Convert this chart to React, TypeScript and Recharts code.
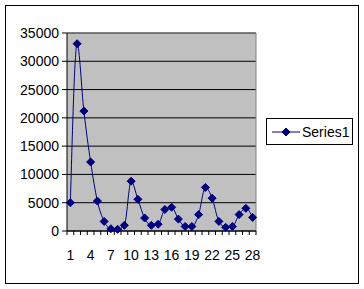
import { LineChart, Line, XAxis, YAxis, CartesianGrid, ReferenceLine, Legend } from "recharts";

const categories = [1, 2, 3, 4, 5, 6, 7, 8, 9, 10, 11, 12, 13, 14, 15, 16, 17, 18, 19, 20, 21, 22, 23, 24, 25, 26, 27, 28];
const series1 = [
  5000, 33100, 21200, 12200, 5300, 1700, 400, 300, 1000, 8800, 5600, 2300, 1000, 1200,
  3800, 4200, 2100, 800, 800, 2900, 7700, 5800, 1700, 650, 800, 2900, 4000, 2400,
];
const xLabels = [1, 4, 7, 10, 13, 16, 19, 22, 25, 28];
const yTicks = [0, 5000, 10000, 15000, 20000, 25000, 30000, 35000];

const NAVY = "#000080";
const FONT = "'Liberation Sans', Arial, sans-serif";

const data = categories.map((c, i) => ({ x: c, Series1: series1[i] }));
const boundaries = [...categories.map((c) => c - 0.5), categories[categories.length - 1] + 0.5];
const xDomain = [boundaries[0], boundaries[boundaries.length - 1]];

const Diamond = ({ cx, cy, r = 4 }: { cx?: number; cy?: number; r?: number }) => {
  if (cx == null || cy == null) return null;
  return (
    <polygon
      points={`${cx},${cy - r} ${cx + r},${cy} ${cx},${cy + r} ${cx - r},${cy}`}
      fill={NAVY}
      stroke={NAVY}
      strokeWidth={1}
    />
  );
};

const NoLabel = () => <g />;

const LegendBox = () => (
  <div
    style={{
      border: "1px solid #000",
      background: "#fff",
      width: 85,
      height: 25,
      display: "flex",
      alignItems: "center",
      fontFamily: FONT,
      fontSize: 14,
      color: "#000",
    }}
  >
    <svg width={31} height={12} style={{ marginLeft: 4 }}>
      <line x1={1} y1={6} x2={29} y2={6} stroke={NAVY} strokeWidth={1} />
      <Diamond cx={15} cy={6} r={4} />
    </svg>
    <span>Series1</span>
  </div>
);

const App = () => {
  return (
    <div style={{ position: "absolute", left: 0, top: 0, width: 364, height: 289, background: "#fff" }}>
      <div
        style={{
          position: "absolute",
          left: 5,
          top: 5,
          width: 352,
          height: 277,
          border: "1px solid #000",
        }}
      />
      <LineChart
        width={364}
        height={289}
        data={data}
        margin={{ top: 33, right: 108, left: 7, bottom: 22 }}
        style={{ position: "absolute", left: 0, top: 0 }}
      >
        <CartesianGrid vertical={false} fill="#c0c0c0" stroke="#000" strokeOpacity={1} xAxisId="a" />
        <ReferenceLine y={35000} stroke="#808080" xAxisId="a" />
        <ReferenceLine x={xDomain[1]} stroke="#808080" xAxisId="a" />
        <YAxis
          domain={[0, 35000]}
          ticks={yTicks}
          width={60}
          tickSize={5}
          tickMargin={3}
          axisLine={{ stroke: "#000" }}
          tickLine={{ stroke: "#000" }}
          tick={{ fill: "#000", fontSize: 14, fontFamily: FONT }}
          interval={0}
        />
        <XAxis
          xAxisId="a"
          dataKey="x"
          type="number"
          domain={xDomain}
          ticks={boundaries}
          interval={0}
          height={5}
          tickSize={4}
          tick={<NoLabel />}
          axisLine={{ stroke: "#000" }}
          tickLine={{ stroke: "#000" }}
        />
        <XAxis
          xAxisId="b"
          dataKey="x"
          type="number"
          domain={xDomain}
          ticks={xLabels}
          interval={0}
          height={31}
          tickLine={false}
          axisLine={false}
          tickMargin={8}
          tick={{ fill: "#000", fontSize: 14, fontFamily: FONT }}
        />
        <Legend
          layout="vertical"
          align="center"
          verticalAlign="middle"
          wrapperStyle={{ left: 266, top: 118, width: 87 }}
          content={() => <LegendBox />}
        />
        <Line
          xAxisId="a"
          type="monotone"
          dataKey="Series1"
          stroke={NAVY}
          strokeWidth={1}
          dot={(p: any) => <Diamond key={p.index} cx={p.cx} cy={p.cy} r={4} />}
          activeDot={false}
          isAnimationActive={false}
        />
      </LineChart>
    </div>
  );
};

export default App;
